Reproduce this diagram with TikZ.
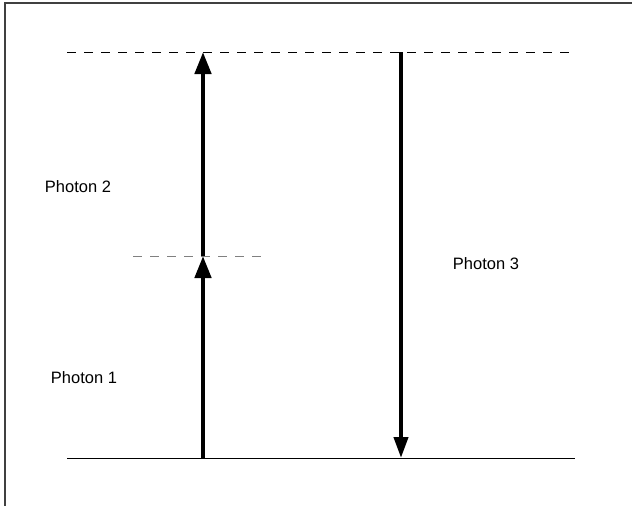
\documentclass[tikz,border=0pt]{standalone}
\usepackage{fontspec}
\setmainfont{Liberation Sans}
\usetikzlibrary {arrows.meta}

\begin{document}
\begin{tikzpicture}[x=1pt,y=-1pt,
  photon/.style={line width=4.5pt, -{Triangle[length=22pt,width=16pt]}},
  level/.style={dash pattern=on 9pt off 8pt, line width=1pt},
  lbl/.style={font=\fontsize{16.5}{19}\selectfont, inner sep=0pt}]
\useasboundingbox (0,0) rectangle (632,506);
% frame
\draw [line width=2pt, black!75] (4.5,506) -- (4.5,2.5) -- (632,2.5);
% levels
\coordinate (g0) at (67,458);  \coordinate (g1) at (575,458);
\coordinate (t0) at (67,52);   \coordinate (t1) at (575,52);
\coordinate (m0) at (133,256); \coordinate (m1) at (265,256);
\draw [line width=1pt] (g0) -- (g1);
\draw [level] (t0) -- (t1);
\draw [level, gray] (m0) -- (m1);
% photons
\coordinate (a) at (203,458); \coordinate (b) at (203,256); \coordinate (c) at (203,52);
\coordinate (d) at (401,52);  \coordinate (e) at (401,458);
\draw [photon] (a) -- (b);
\draw [photon] (b) -- (c);
\draw [photon, line width=4pt, -{Triangle[length=21pt,width=14pt]}] (d) -- (e);
\node [lbl] (p1) at (84,378) {Photon 1};
\node [lbl] (p2) at (78,187) {Photon 2};
\node [lbl] (p3) at (486,264) {Photon 3};
\end{tikzpicture}
\end{document}
